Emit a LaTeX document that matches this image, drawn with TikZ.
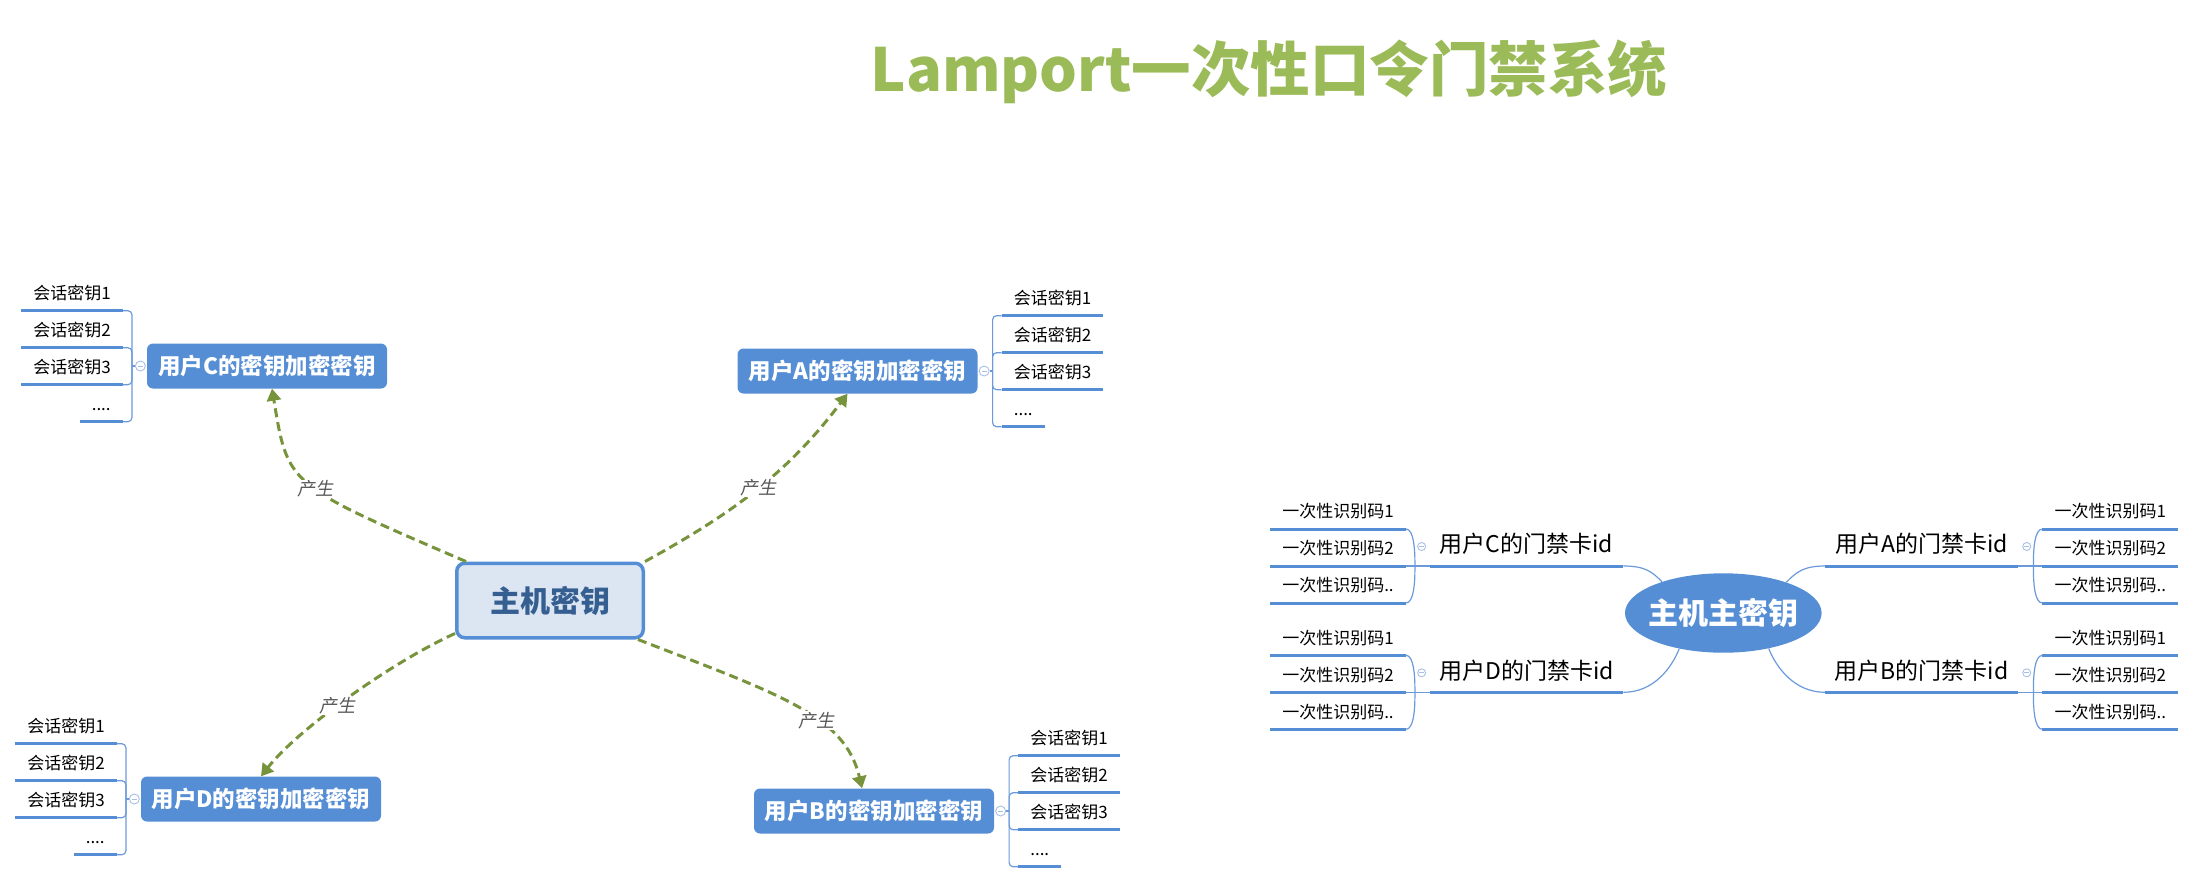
\documentclass[tikz,border=0pt]{standalone}
\usepackage{fontspec}
\setmainfont{Noto Sans CJK SC}
\newfontfamily\slantfont{Noto Sans CJK SC}[FakeSlant=0.2]
\usetikzlibrary{arrows.meta,positioning,shapes.geometric}
\usepackage{xcolor}
\definecolor{topicblue}{HTML}{558ED5}
\definecolor{mainfill}{HTML}{DCE6F2}
\definecolor{maintext}{HTML}{365F91}
\definecolor{relgreen}{HTML}{77933C}
\definecolor{titlegreen}{HTML}{9BBB59}
\definecolor{labelgray}{HTML}{595959}
\definecolor{linkblue}{HTML}{6A9ADB}
\definecolor{foldblue}{HTML}{A7BFE6}
\newcommand{\px}[1]{\fontsize{#1}{#1}\selectfont}
\newcommand{\fourdots}{....}
\newcommand{\twodots}{..}

\begin{document}
\begin{tikzpicture}%
    [x=1pt, y=-1pt,
    master/.style={draw=topicblue, line width=3.5pt, fill=mainfill, rounded corners=8pt,
        minimum width=186.5pt, minimum height=74.5pt, text=maintext, font=\px{30}\bfseries},
    kek/.style={fill=topicblue, rounded corners=6pt, minimum width=240pt, minimum height=45pt,
        inner sep=0pt, text=white, font=\px{22.5}\bfseries},
    root/.style={ellipse, fill=topicblue, minimum width=196.6pt, minimum height=79.4pt,
        inner xsep=-14pt, inner ysep=0pt, text height=25pt, text depth=2pt, text=white, font=\px{30}\bfseries},
    card/.style={font=\px{23}, minimum width=193pt, inner ysep=8pt, text height=17pt, text depth=5pt},
    sub/.style={font=\px{17}, inner xsep=12pt, inner ysep=8pt, text height=14pt, text depth=3pt},
    uline/.style={topicblue, line width=3pt},
    bracket/.style={linkblue, line width=1.2pt, rounded corners=4pt},
    link/.style={linkblue, line width=1.2pt},
    fold/.style={circle, draw=foldblue, line width=0.9pt, minimum size=10pt, inner sep=0pt,
        path picture={\draw[foldblue, line width=0.9pt]
            ([xshift=-2.5pt]path picture bounding box.center) -- ([xshift=2.5pt]path picture bounding box.center);}},
    produce/.style={relgreen, line width=3pt, dash pattern=on 9pt off 5pt,
        -{Triangle[length=12pt,width=14pt]}},
    lbl/.style={font=\slantfont\px{18}, text=labelgray, fill=white, inner sep=1pt}
    ]
    \useasboundingbox (0,0) rectangle (2194,884);

    \node[font=\px{59.5}\bfseries, text=titlegreen, anchor=base] (title) at (1269,91) {Lamport一次性口令门禁系统};

    % left map
    \node[master] (master) at (550,600.5)  {主机密钥};
    \node[kek]    (kekC)   at (267,366)    {用户C的密钥加密密钥};
    \node[kek]    (kekA)   at (857.5,371)  {用户A的密钥加密密钥};
    \node[kek]    (kekD)   at (261,799)    {用户D的密钥加密密钥};
    \node[kek]    (kekB)   at (874,811)    {用户B的密钥加密密钥};

    \node[fold] (foldC) [left=1pt of kekC]  {};
    \node[fold] (foldD) [left=1pt of kekD]  {};
    \node[fold] (foldA) [right=1pt of kekA] {};
    \node[fold] (foldB) [right=1pt of kekB] {};
    \coordinate (brC) at ([xshift=-3pt]foldC.west);
    \coordinate (brD) at ([xshift=-3pt]foldD.west);
    \coordinate (brA) at ([xshift=3pt]foldA.east);
    \coordinate (brB) at ([xshift=3pt]foldB.east);

    \foreach \m in {C,D}{
        \draw[bracket] (br\m) -- (fold\m.west);
        \foreach \k/\t in {0/会话密钥1,1/会话密钥2,2/会话密钥3,3/\fourdots}{
            \node[sub, anchor=south east] (kek\m s\k) at ([xshift=-9pt,yshift={55.3pt-37pt*\k}]br\m) {\t};
            \draw[uline] (kek\m s\k.south west) -- (kek\m s\k.south east);
            \draw[bracket] (br\m) |- (kek\m s\k.south east);
        }
    }
    \foreach \m in {A,B}{
        \draw[bracket] (br\m) -- (fold\m.east);
        \foreach \k/\t in {0/会话密钥1,1/会话密钥2,2/会话密钥3,3/\fourdots}{
            \node[sub, anchor=south west] (kek\m s\k) at ([xshift=9pt,yshift={55.3pt-37pt*\k}]br\m) {\t};
            \draw[uline] (kek\m s\k.south west) -- (kek\m s\k.south east);
            \draw[bracket] (br\m) |- (kek\m s\k.south west);
        }
    }

    % FROM                          CONTROLS                          LABEL                     TO
    \draw[produce] ([xshift=11pt]master.north west) .. controls +(-179,-77) and +(16,97) .. node[lbl,pos=0.45] {产生} ([xshift=5pt]kekC.south);
    \draw[produce] (master.north east)               .. controls +(91,-50) and +(-58,77)  .. node[lbl,pos=0.5]  {产生} ([xshift=-10pt]kekA.south);
    \draw[produce] ([yshift=6pt]master.south west)   .. controls +(-64,29) and +(37,-47)  .. node[lbl,pos=0.55] {产生} (kekD.north);
    \draw[produce] ([xshift=-7pt]master.south east)  .. controls +(142,55) and +(-17,-73) .. node[lbl,pos=0.6]  {产生} ([xshift=-12pt]kekB.north);

    % right map
    \node[root] (root) at (1723.3,613) {主机主密钥};
    \node[card, anchor=south east] (cardC) at (1623.3,566)   {用户C的门禁卡id};
    \node[card, anchor=south east] (cardD) at (1623.3,692.3) {用户D的门禁卡id};
    \node[card, anchor=south west] (cardA) at (1825,566)     {用户A的门禁卡id};
    \node[card, anchor=south west] (cardB) at (1825,692.3)   {用户B的门禁卡id};
    \foreach \m in {A,B,C,D}
        \draw[uline] (card\m.south west) -- (card\m.south east);

    \draw[link] (cardC.south east) .. controls +(22,0) and +(-10,-10) .. (root.153);
    \draw[link] (cardD.south east) .. controls +(30,0) and +(-8,20)   .. (root.219);
    \draw[link] (cardA.south west) .. controls +(-22,0) and +(10,-10) .. (root.26);
    \draw[link] (cardB.south west) .. controls +(-30,0) and +(8,20)   .. (root.-38);

    \foreach \m in {C,D}{
        \coordinate (mid\m) at ([xshift=-15pt]card\m.south west);
        \node[fold, minimum size=8pt] (foldc\m) at ([xshift=-8.3pt,yshift=19.5pt]card\m.south west) {};
        \foreach \k/\t in {0/一次性识别码1,1/一次性识别码2,2/一次性识别码\twodots}{
            \node[sub, anchor=south east] (card\m s\k) at ([xshift=-9pt,yshift={37pt-37pt*\k}]mid\m) {\t};
            \draw[uline] (card\m s\k.south west) -- (card\m s\k.south east);
        }
        \draw[bracket] (card\m s0.south east) .. controls +(8,0) and +(0,-16) .. (mid\m)
                       .. controls +(0,16) and +(8,0) .. (card\m s2.south east);
        \draw[bracket] (card\m s1.south east) -- (card\m.south west);
    }
    \foreach \m in {A,B}{
        \coordinate (mid\m) at ([xshift=15pt]card\m.south east);
        \node[fold, minimum size=8pt] (foldc\m) at ([xshift=8.3pt,yshift=19.5pt]card\m.south east) {};
        \foreach \k/\t in {0/一次性识别码1,1/一次性识别码2,2/一次性识别码\twodots}{
            \node[sub, anchor=south west] (card\m s\k) at ([xshift=9pt,yshift={37pt-37pt*\k}]mid\m) {\t};
            \draw[uline] (card\m s\k.south west) -- (card\m s\k.south east);
        }
        \draw[bracket] (card\m s0.south west) .. controls +(-8,0) and +(0,-16) .. (mid\m)
                       .. controls +(0,16) and +(-8,0) .. (card\m s2.south west);
        \draw[bracket] (card\m s1.south west) -- (card\m.south east);
    }
\end{tikzpicture}
\end{document}
